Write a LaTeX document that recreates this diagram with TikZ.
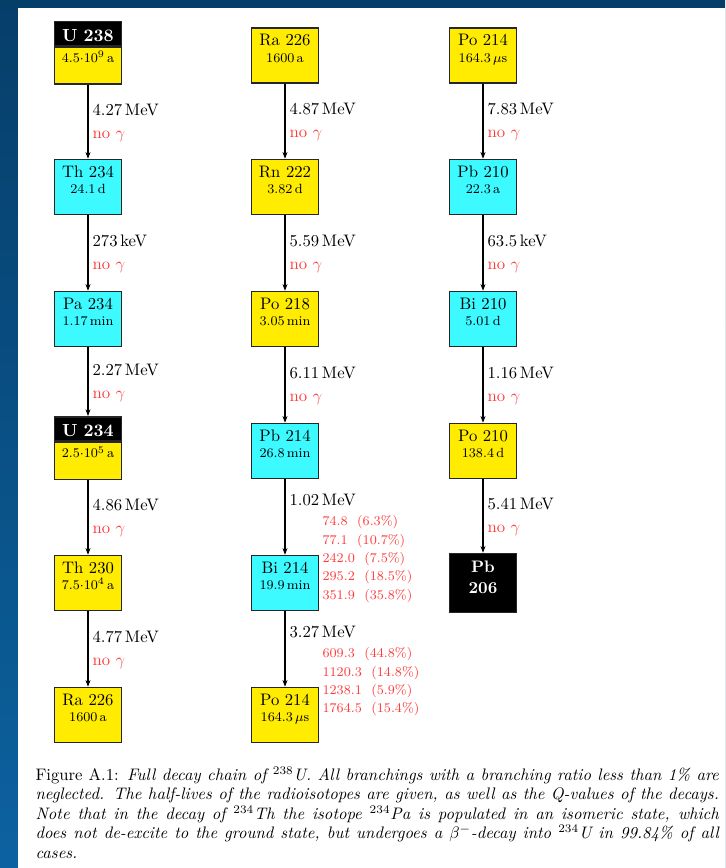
\documentclass[tikz,border=0pt]{standalone}
\usetikzlibrary{arrows.meta}
\definecolor{isoyellow}{RGB}{255,236,0}
\definecolor{isocyan}{RGB}{60,250,255}
\definecolor{gamred}{RGB}{255,60,60}
\definecolor{framedark}{RGB}{6,62,106}
\definecolor{framelight}{RGB}{12,98,160}
\tikzset{
  iso/.style={draw=black!85, line width=0.9pt, inner sep=0pt, text width=40.2pt,
    align=center, text height=10.5pt, text depth=22.5pt},
  yelbox/.style={iso, fill=isoyellow},
  cyanbox/.style={iso, fill=isocyan},
  ubox/.style={iso, fill=isoyellow, text height=9.4pt, text depth=12.8pt, font=\footnotesize},
  uhead/.style={iso, fill=black, text=white, text height=12pt, text depth=2.4pt,
    font=\fontsize{10.5}{12}\selectfont\bfseries},
  endbox/.style={iso, fill=black, text=white, text height=11.4pt, text depth=24pt, font=\bfseries},
  qval/.style={midway, anchor=base west, inner sep=0pt, xshift=2.4pt, yshift=3.9pt},
  nogam/.style={midway, anchor=base west, inner sep=0pt, xshift=2.4pt, yshift=-9.9pt, text=gamred},
  glines/.style={midway, anchor=north west, inner sep=0pt, xshift=22.2pt, yshift=1pt,
    text=gamred, align=left, font=\fontsize{8}{11}\selectfont}
}
\begin{document}
\begin{tikzpicture}[x=0.6pt, y=-0.6pt, >={Stealth[length=4pt,width=3pt]}, line width=0.7pt]
  % Rahmen
  \useasboundingbox (0,0) rectangle (725,868);
  \fill[top color=framedark, bottom color=framelight] (0,0) rectangle (725,868);
  \fill[white] (18,8) rectangle (725,868);

  % Erste Spalte
  \node[ubox, anchor=south] (u238) at (88,84.5) {$4.5{\cdot}10^{9}$\,a};
  \node[uhead, anchor=south] (u238h) at (u238.north) {U 238};
  \node[cyanbox] (th234) at (88,187) {Th 234\\[-2.1pt]{\footnotesize 24.1\,d}};
  \node[cyanbox] (pa234) at (88,319) {Pa 234\\[-2.1pt]{\footnotesize 1.17\,min}};
  \node[ubox, anchor=south] (u234) at (88,480) {$2.5{\cdot}10^{5}$\,a};
  \node[uhead, anchor=south] (u234h) at (u234.north) {U 234};
  \node[yelbox] (th230) at (88,583) {Th 230\\[-2.1pt]{\footnotesize $7.5{\cdot}10^{4}$\,a}};
  \node[yelbox] (ra226a) at (88,715) {Ra 226\\[-2.1pt]{\footnotesize 1600\,a}};

  \draw[->] (u238) -- (th234) node[qval] (q1) {4.27\,MeV} node[nogam] (n1) {no $\gamma$};
  \draw[->] (th234) -- (pa234) node[qval] (q2) {273\,keV} node[nogam] (n2) {no $\gamma$};
  \draw[->] (pa234) -- (u234h) node[qval] (q3) {2.27\,MeV} node[nogam] (n3) {no $\gamma$};
  \draw[->] (u234) -- (th230) node[qval] (q4) {4.86\,MeV} node[nogam] (n4) {no $\gamma$};
  \draw[->] (th230) -- (ra226a) node[qval] (q5) {4.77\,MeV} node[nogam] (n5) {no $\gamma$};

  % Zweite Spalte
  \node[yelbox] (ra226) at (285,55.5) {Ra 226\\[-2.1pt]{\footnotesize 1600\,a}};
  \node[yelbox] (rn222) at (285,187) {Rn 222\\[-2.1pt]{\footnotesize 3.82\,d}};
  \node[yelbox] (po218) at (285,319) {Po 218\\[-2.1pt]{\footnotesize 3.05\,min}};
  \node[cyanbox] (pb214) at (285,451) {Pb 214\\[-2.1pt]{\footnotesize 26.8\,min}};
  \node[cyanbox] (bi214) at (285,583) {Bi 214\\[-2.1pt]{\footnotesize 19.9\,min}};
  \node[yelbox] (po214a) at (285,715) {Po 214\\[-2.1pt]{\footnotesize 164.3\,$\mu$s}};

  \draw[->] (ra226) -- (rn222) node[qval] (q6) {4.87\,MeV} node[nogam] (n6) {no $\gamma$};
  \draw[->] (rn222) -- (po218) node[qval] (q7) {5.59\,MeV} node[nogam] (n7) {no $\gamma$};
  \draw[->] (po218) -- (pb214) node[qval] (q8) {6.11\,MeV} node[nogam] (n8) {no $\gamma$};
  \draw[->] (pb214) -- (bi214) node[qval, yshift=3.3pt] (q9) {1.02\,MeV}
    node[glines] (g9) {74.8~~(6.3\%)\\77.1~~(10.7\%)\\242.0~~(7.5\%)\\295.2~~(18.5\%)\\351.9~~(35.8\%)};
  \draw[->] (bi214) -- (po214a) node[qval, yshift=3.3pt] (q10) {3.27\,MeV}
    node[glines] (g10) {609.3~~(44.8\%)\\1120.3~~(14.8\%)\\1238.1~~(5.9\%)\\1764.5~~(15.4\%)};

  % Dritte Spalte
  \node[yelbox] (po214) at (483,55.5) {Po 214\\[-2.1pt]{\footnotesize 164.3\,$\mu$s}};
  \node[cyanbox] (pb210) at (483,187) {Pb 210\\[-2.1pt]{\footnotesize 22.3\,a}};
  \node[cyanbox] (bi210) at (483,319) {Bi 210\\[-2.1pt]{\footnotesize 5.01\,d}};
  \node[yelbox] (po210) at (483,451) {Po 210\\[-2.1pt]{\footnotesize 138.4\,d}};
  \node[endbox] (pb206) at (483,583) {Pb\\[0.6pt]206};

  \draw[->] (po214) -- (pb210) node[qval] (q11) {7.83\,MeV} node[nogam] (n11) {no $\gamma$};
  \draw[->] (pb210) -- (bi210) node[qval] (q12) {63.5\,keV} node[nogam] (n12) {no $\gamma$};
  \draw[->] (bi210) -- (po210) node[qval] (q13) {1.16\,MeV} node[nogam] (n13) {no $\gamma$};
  \draw[->] (po210) -- (pb206) node[qval] (q14) {5.41\,MeV} node[nogam] (n14) {no $\gamma$};

  % Bildunterschrift
  \node[anchor=north west, inner sep=0pt, text width=410pt, align=justify,
    font=\fontsize{10}{11.7}\selectfont] (caption) at (35,766)
    {Figure A.1: \textit{Full decay chain of $^{238}$U. All branchings with a branching ratio less than 1\% are\linebreak
    neglected. The half-lives of the radioisotopes are given, as well as the Q-values of the decays.\linebreak
    Note that in the decay of $^{234}$Th the isotope $^{234}$Pa is populated in an isomeric state, which\linebreak
    does not de-excite to the ground state, but undergoes a $\beta^-$-decay into $^{234}$U in 99.84\% of all\linebreak
    cases.}};
\end{tikzpicture}
\end{document}
